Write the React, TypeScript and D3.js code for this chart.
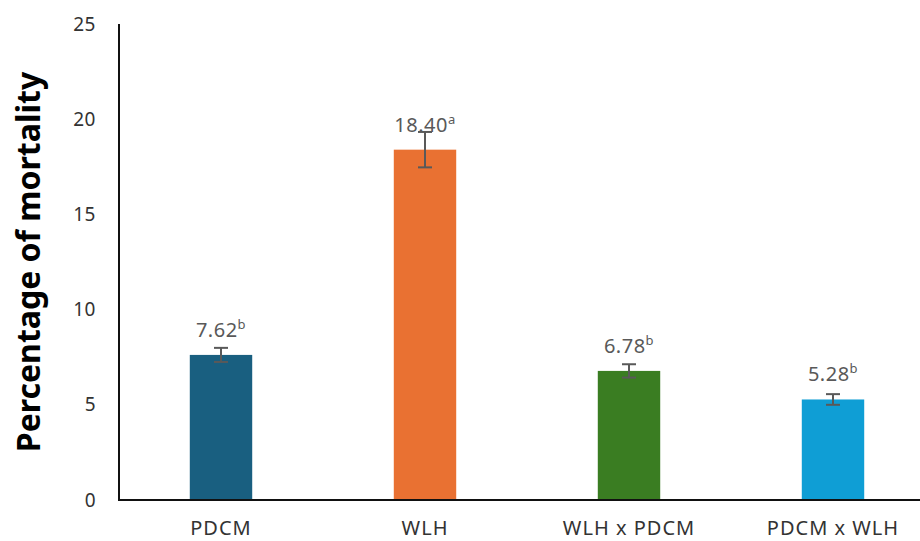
import React from "react";
import * as d3 from "d3";

const categories = ["PDCM", "WLH", "WLH x PDCM", "PDCM x WLH"];
const values = [7.62, 18.4, 6.78, 5.28];
const errors = [0.37, 0.93, 0.35, 0.28];
const letters = ["b", "a", "b", "b"];
const colors = ["#195F80", "#E97132", "#3A7D22", "#0F9ED5"];
const yTicks = [0, 5, 10, 15, 20, 25];

const W = 920;
const H = 541;
const left = 119;
const bottom = 500;
const top = 24;

export default function App() {
  const x = d3
    .scaleBand<string>()
    .domain(categories)
    .range([left, left + 816])
    .paddingInner(0.694)
    .paddingOuter(0.347);
  const y = d3.scaleLinear().domain([0, 25]).range([bottom, top]);
  const font = "'Noto Sans', 'Open Sans', sans-serif";
  const grey = "#595959";

  return (
    <svg
      width={W}
      height={H}
      style={{ position: "absolute", left: 0, top: 0, background: "#fff" }}
      fontFamily={font}
    >
      <rect x={0} y={0} width={W} height={H} fill="#fff" />
      {categories.map((c, i) => {
        const bx = x(c)!;
        const bw = x.bandwidth();
        const cx = bx + bw / 2;
        const yt = y(values[i]);
        const e1 = y(values[i] + errors[i]);
        const e0 = y(values[i] - errors[i]);
        return (
          <g key={c}>
            <rect x={bx} y={yt} width={bw} height={bottom - yt} fill={colors[i]} />
            <line x1={cx} x2={cx} y1={e1} y2={e0} stroke={grey} strokeWidth={2} />
            <line x1={cx - 7} x2={cx + 7} y1={e1} y2={e1} stroke={grey} strokeWidth={2} />
            <line x1={cx - 7} x2={cx + 7} y1={e0} y2={e0} stroke={grey} strokeWidth={2} />
            <text x={cx} y={yt - 18} textAnchor="middle" fontSize={20} fill={grey} letterSpacing={0.5}>
              {values[i].toFixed(2)}
              <tspan fontSize={13} dy={-8}>
                {letters[i]}
              </tspan>
            </text>
            <text x={cx} y={535} textAnchor="middle" fontSize={20} fill="#333" letterSpacing={1}>
              {c}
            </text>
          </g>
        );
      })}
      {yTicks.map((t) => (
        <text
          key={t}
          x={96}
          y={y(t)}
          dy="0.35em"
          textAnchor="end"
          fontSize={19}
          fill="#333"
          letterSpacing={0.5}
        >
          {t}
        </text>
      ))}
      <line x1={left} x2={left} y1={top} y2={bottom + 1} stroke="#111" strokeWidth={2} />
      <line x1={left - 1} x2={W} y1={bottom} y2={bottom} stroke="#111" strokeWidth={2} />
      <text
        transform={`translate(40, ${(top + bottom) / 2}) rotate(-90)`}
        textAnchor="middle"
        fontSize={32}
        fontWeight="bold"
        fill="#000"
      >
        Percentage of mortality
      </text>
    </svg>
  );
}
